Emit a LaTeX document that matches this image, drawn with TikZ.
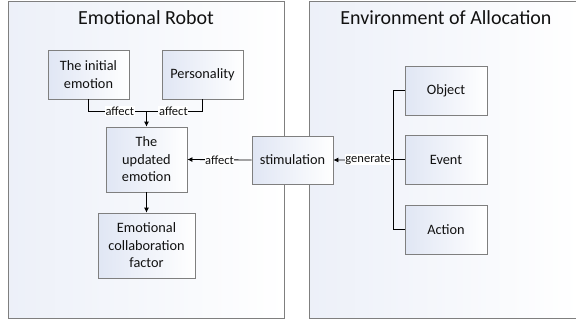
\documentclass[tikz,border=0pt]{standalone}
\usepackage{fontspec}
\setmainfont{Carlito}
\usetikzlibrary{arrows.meta}
\definecolor{edge}{HTML}{7F7F7F}
\definecolor{tint}{HTML}{E0E6F4}
\definecolor{ink}{HTML}{111111}
\tikzset{
  panel/.style={draw=edge, line width=0.8pt, shading angle=135, left color=tint!60, right color=white},
  boxn/.style={draw=edge, line width=0.8pt, shading angle=135, left color=tint, right color=white, align=center, font=\fontsize{14.3}{17.5}\selectfont, text=ink, inner sep=0pt},
  title/.style={font=\fontsize{20}{24}\selectfont, text=ink},
  conn/.style={draw=black, line width=0.8pt},
  arr/.style={conn, -{Latex[length=5pt,width=5pt]}},
  lab/.style={fill=white, inner sep=0.6pt, font=\fontsize{12.5}{14}\selectfont, text=ink}
}
\begin{document}
\begin{tikzpicture}[x=1pt,y=-1pt]
\useasboundingbox (0,0) rectangle (576,327);
% panels
\node[panel, minimum width=276pt, minimum height=317pt, anchor=north west] (robot) at (8,1) {};
\node[panel, minimum width=270pt, minimum height=317pt, anchor=north west] (env) at (309,1) {};
\node[title] (trobot) at (146,18) {Emotional Robot};
\node[title] (tenv) at (446,18) {Environment of Allocation};
% boxes
\node[boxn, minimum width=81pt, minimum height=49pt] (init) at (88.5,74.5) {The initial\\emotion};
\node[boxn, minimum width=81pt, minimum height=49pt] (pers) at (202.5,74.5) {Personality};
\node[boxn, minimum width=81pt, minimum height=65pt] (upd) at (146.5,159.5) {The\\updated\\emotion};
\node[boxn, minimum width=97pt, minimum height=65pt] (ecf) at (146.5,245.5) {Emotional\\collaboration\\factor};
\node[boxn, minimum width=81pt, minimum height=48pt] (stim) at (292.5,160) {stimulation};
\node[boxn, minimum width=82pt, minimum height=49pt] (obj) at (446,90.5) {Object};
\node[boxn, minimum width=82pt, minimum height=49pt] (ev) at (446,159.5) {Event};
\node[boxn, minimum width=82pt, minimum height=49pt] (act) at (446,229.5) {Action};
% joins
\coordinate (j) at (146.5,111);
\coordinate (g) at (393,159.5);
\coordinate (gt) at (393,90.5);
\coordinate (gb) at (393,229.5);
% connectors
\draw[conn] (init.south) |- node[lab, pos=0.77]{affect} (j);
\draw[conn] (pers.south) |- node[lab, pos=0.76]{affect} (j);
\draw[arr] (j) -- (upd.north);
\draw[arr] (stim.west) -- node[lab]{affect} (upd.east);
\draw[arr] (upd.south) -- (ecf.north);
\draw[conn] (obj.west) -- (gt) -- (gb) -- (act.west);
\draw[conn] (ev.west) -- (g);
\draw[arr] (g) -- node[lab, pos=0.42]{generate} (stim.east);
\end{tikzpicture}
\end{document}
